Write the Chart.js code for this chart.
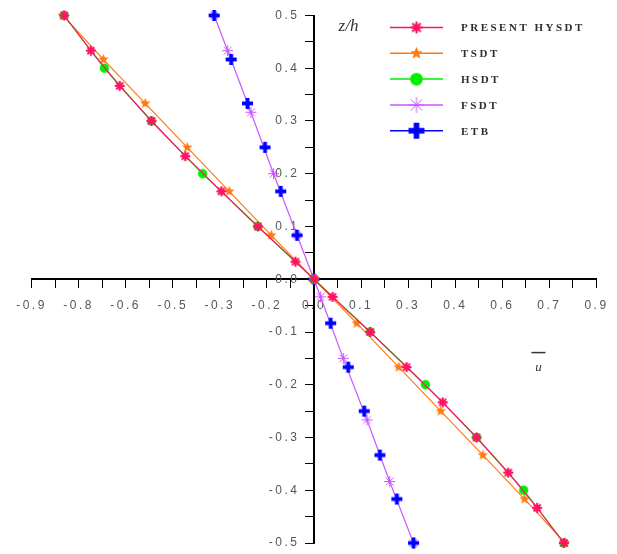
<!DOCTYPE html>
<html>
<head>
<meta charset="utf-8">
<script src="https://cdn.jsdelivr.net/npm/chart.js@4.4.1/dist/chart.umd.min.js"></script>
<style>
  html, body { margin: 0; padding: 0; background: #fff; }
  #wrap { position: relative; width: 617px; height: 554px; }
</style>
</head>
<body>
<div id="wrap"><canvas id="deflection"></canvas></div>
<script>
// legend names, top to bottom
const seriesNames = ['PRESENT HYSDT', 'TSDT', 'HSDT', 'FSDT', 'ETB'];

// z/h of each point and the matching u values
const hysdtZ = [0.5, 0.4333, 0.3667, 0.3, 0.2333, 0.1667, 0.1, 0.0333, 0, -0.0333, -0.1, -0.1667, -0.2333, -0.3, -0.3667, -0.4333, -0.5];
const hysdtU = [-0.796, -0.711, -0.619, -0.518, -0.410, -0.295, -0.179, -0.059, 0, 0.059, 0.179, 0.295, 0.410, 0.518, 0.619, 0.711, 0.796];

const tsdtZ = [0.5, 0.4167, 0.3333, 0.25, 0.1667, 0.0833, 0, -0.0833, -0.1667, -0.25, -0.3333, -0.4167, -0.5];
const tsdtU = [-0.800, -0.671, -0.538, -0.404, -0.270, -0.136, 0, 0.136, 0.270, 0.404, 0.538, 0.671, 0.800];

const hsdtZ = [0.5, 0.4, 0.3, 0.2, 0.1, 0, -0.1, -0.2, -0.3, -0.4, -0.5];
const hsdtU = [-0.796, -0.668, -0.518, -0.355, -0.179, 0, 0.179, 0.355, 0.518, 0.668, 0.796];

const fsdtZ = [0.5, 0.4333, 0.3167, 0.2, 0.0833, -0.0333, -0.15, -0.2667, -0.3833, -0.5];
const fsdtU = [-0.318, -0.275, -0.201, -0.129, -0.054, 0.021, 0.093, 0.169, 0.241, 0.317];

const etbZ = [0.5, 0.4167, 0.3333, 0.25, 0.1667, 0.0833, 0, -0.0833, -0.1667, -0.25, -0.3333, -0.4167, -0.5];
const etbU = [-0.318, -0.264, -0.212, -0.156, -0.106, -0.054, 0, 0.053, 0.109, 0.160, 0.210, 0.264, 0.317];

// labelled ticks (every other tick mark carries a label)
const xTickLabels = ['-0.9', '-0.8', '-0.6', '-0.5', '-0.3', '-0.2', '0.0', '0.1', '0.3', '0.4', '0.6', '0.7', '0.9'];
const yTickLabels = ['-0.5', '-0.4', '-0.3', '-0.2', '-0.1', '0.0', '0.1', '0.2', '0.3', '0.4', '0.5'];

const colors = ['#ff1464', '#ff7a14', '#00ee00', '#cc55ff', '#0000ff'];
const markerKinds = ['burst', 'star5', 'dot', 'asterisk', 'plus'];

// tick mark positions: half the spacing of the labels
const xTickVals = [];
for (let i = 0; i < xTickLabels.length * 2 - 1; i++) xTickVals.push(-0.9 + i * 0.075);
const yTickVals = [];
for (let i = 0; i < yTickLabels.length * 2 - 1; i++) yTickVals.push(-0.5 + i * 0.05);

function toPoints(us, zs) {
    return us.map((u, i) => ({ x: u, y: zs[i] }));
}

// small canvases used as point styles
function markerCanvas(kind, color, s) {
    const c = document.createElement('canvas');
    const d = Math.ceil(s * 2 + 4);
    c.width = d;
    c.height = d;
    const g = c.getContext('2d');
    g.translate(d / 2, d / 2);
    g.fillStyle = color;
    g.strokeStyle = color;
    if (kind === 'burst') {
        g.lineWidth = 2;
        for (let k = 0; k < 8; k++) {
            const a = k * Math.PI / 4;
            g.beginPath();
            g.moveTo(0, 0);
            g.lineTo(Math.cos(a) * s, Math.sin(a) * s);
            g.stroke();
        }
        g.beginPath();
        g.arc(0, 0, s * 0.6, 0, Math.PI * 2);
        g.fill();
    } else if (kind === 'star5') {
        g.beginPath();
        for (let k = 0; k < 10; k++) {
            const r = k % 2 ? s * 0.45 : s;
            const a = -Math.PI / 2 + k * Math.PI / 5;
            g.lineTo(Math.cos(a) * r, Math.sin(a) * r);
        }
        g.closePath();
        g.fill();
    } else if (kind === 'dot') {
        g.beginPath();
        g.arc(0, 0, s * 0.85, 0, Math.PI * 2);
        g.fill();
    } else if (kind === 'asterisk') {
        g.lineWidth = 1;
        for (let k = 0; k < 4; k++) {
            const a = k * Math.PI / 4;
            g.beginPath();
            g.moveTo(-Math.cos(a) * s, -Math.sin(a) * s);
            g.lineTo(Math.cos(a) * s, Math.sin(a) * s);
            g.stroke();
        }
    } else if (kind === 'plus') {
        const t = s * 0.7;
        g.fillRect(-s, -t / 2, 2 * s, t);
        g.fillRect(-t / 2, -s, t, 2 * s);
    }
    return c;
}

const plotSizes = [5, 5.5, 5.5, 5.5, 5.5];
const legendSizes = [6, 6.5, 7.5, 8, 8];
const plotMarkers = markerKinds.map((k, i) => markerCanvas(k, colors[i], plotSizes[i]));
const legendMarkers = markerKinds.map((k, i) => markerCanvas(k, colors[i], legendSizes[i]));

const seriesData = [
    toPoints(hysdtU, hysdtZ),
    toPoints(tsdtU, tsdtZ),
    toPoints(hsdtU, hsdtZ),
    toPoints(fsdtU, fsdtZ),
    toPoints(etbU, etbZ)
];
// drawing order: lower value ends up on top
const drawOrder = [1, 3, 2, 5, 4];
// the ETB curve sits under the FSDT one, only its crosses show
const drawLine = [true, true, true, true, false];

// letter spaced tick labels like the original plot
const spacing = {
    id: 'spacing',
    beforeDraw(chart) {
        chart.ctx.letterSpacing = '2.5px';
    }
};

// legend with line + marker, and the axis names
const notes = {
    id: 'notes',
    afterDraw(chart) {
        const ctx = chart.ctx;
        const x = chart.scales.x;
        const y = chart.scales.y;
        ctx.save();

        seriesNames.forEach((name, i) => {
            const ry = 27.5 + i * 25.8;
            ctx.strokeStyle = colors[i];
            ctx.lineWidth = 1.5;
            ctx.beginPath();
            ctx.moveTo(390, ry);
            ctx.lineTo(443, ry);
            ctx.stroke();
            const m = legendMarkers[i];
            ctx.drawImage(m, 416.5 - m.width / 2, ry - m.height / 2);
            ctx.letterSpacing = '2.5px';
            ctx.fillStyle = '#2e2e2e';
            ctx.font = 'bold 11px "Liberation Serif"';
            ctx.textAlign = 'left';
            ctx.textBaseline = 'middle';
            ctx.fillText(name, 461, ry + 1);
        });

        ctx.letterSpacing = '0px';
        ctx.fillStyle = '#333';
        ctx.textAlign = 'center';
        ctx.textBaseline = 'middle';
        ctx.font = 'italic 17px "Liberation Serif"';
        ctx.fillText('z/h', x.getPixelForValue(0.11), y.getPixelForValue(0.479));

        const ux = x.getPixelForValue(0.715);
        ctx.font = 'italic 13px "Liberation Serif"';
        ctx.fillText('u', ux, y.getPixelForValue(-0.168));
        ctx.fillRect(ux - 7, y.getPixelForValue(-0.1376), 14, 1.5);
        ctx.restore();
    }
};

Chart.defaults.font.family = '"Liberation Sans", Arial, sans-serif';

new Chart(document.getElementById('deflection'), {
    type: 'scatter',
    data: {
        datasets: seriesData.map((pts, i) => ({
            label: seriesNames[i],
            data: pts,
            showLine: drawLine[i],
            borderColor: colors[i],
            backgroundColor: colors[i],
            borderWidth: 1.2,
            pointStyle: plotMarkers[i],
            order: drawOrder[i],
            clip: false
        }))
    },
    options: {
        responsive: true,
        maintainAspectRatio: false,
        animation: false,
        layout: { padding: { left: 31.5, right: 20.5, top: 15.5, bottom: 11 } },
        plugins: {
            legend: { display: false },
            tooltip: { enabled: false }
        },
        scales: {
            x: {
                type: 'linear',
                min: -0.9,
                max: 0.9,
                position: { y: 0 },
                afterFit: s => { s.height = 0; },
                afterBuildTicks: s => { s.ticks = xTickVals.map(v => ({ value: v })); },
                grid: { drawOnChartArea: false, drawTicks: true, tickLength: 8, tickColor: '#000', tickWidth: 1 },
                border: { display: true, color: '#000', width: 2 },
                ticks: {
                    autoSkip: false,
                    maxRotation: 0,
                    padding: 11,
                    color: '#555',
                    font: { size: 12 },
                    callback: (v, idx) => (idx % 2 ? '' : xTickLabels[idx / 2])
                }
            },
            y: {
                type: 'linear',
                min: -0.5,
                max: 0.5,
                position: { x: 0 },
                afterFit: s => { s.width = 0; },
                afterBuildTicks: s => { s.ticks = yTickVals.map(v => ({ value: v })); },
                grid: { drawOnChartArea: false, drawTicks: true, tickLength: 8, tickColor: '#000', tickWidth: 1 },
                border: { display: true, color: '#000', width: 2 },
                ticks: {
                    autoSkip: false,
                    color: '#555',
                    font: { size: 12 },
                    // centred y axes put labels flush on the line, so pad with a space
                    callback: (v, idx) => (idx % 2 ? '' : yTickLabels[idx / 2] + '\u2003')
                }
            }
        }
    },
    plugins: [spacing, notes]
});
</script>
</body>
</html>
